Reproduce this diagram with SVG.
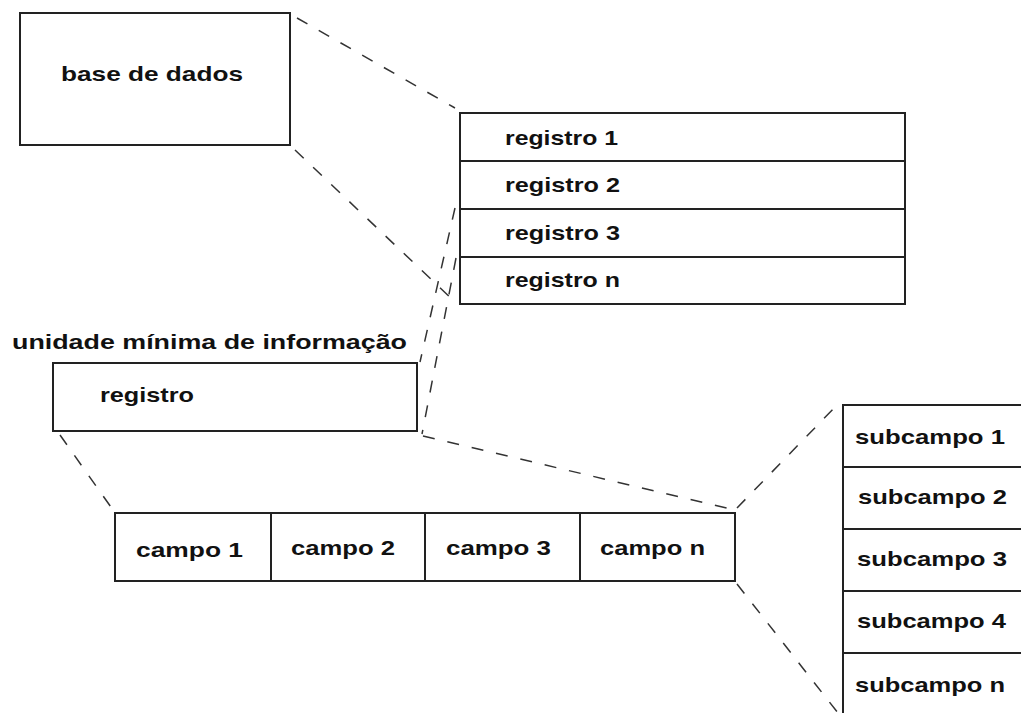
<svg xmlns="http://www.w3.org/2000/svg" width="1021" height="713" viewBox="0 0 1021 713">
<style>
.box{fill:#fff;stroke:#222;stroke-width:2}
.ln{stroke:#222;stroke-width:2}
.dash{stroke:#333;stroke-width:1.5;stroke-dasharray:12 13;fill:none}
text{font-family:"Liberation Sans",Arial,sans-serif;font-weight:bold;font-size:21px;fill:#111}
</style>
<rect width="1021" height="713" fill="#fff"/>
<g id="connectors">
<line class="dash" x1="297" y1="18" x2="455" y2="108"/>
<line class="dash" x1="295" y1="150" x2="455" y2="302"/>
<line class="dash" x1="455" y1="208" x2="420" y2="362"/>
<line class="dash" x1="456" y1="258" x2="422" y2="434"/>
<line class="dash" x1="60" y1="435" x2="113" y2="510"/>
<line class="dash" x1="423" y1="436" x2="735" y2="510"/>
<line class="dash" x1="737" y1="508" x2="838" y2="404"/>
<line class="dash" x1="737" y1="584" x2="838" y2="713"/>
</g>
<g id="base-de-dados">
<rect class="box" x="20" y="13" width="270" height="132"/>
<text x="61" y="81" textLength="182" lengthAdjust="spacingAndGlyphs">base de dados</text>
</g>
<g id="registros">
<rect class="box" x="460" y="113" width="445" height="191"/>
<line class="ln" x1="460" y1="161" x2="905" y2="161"/>
<line class="ln" x1="460" y1="209" x2="905" y2="209"/>
<line class="ln" x1="460" y1="257" x2="905" y2="257"/>
<text x="505" y="145" textLength="113" lengthAdjust="spacingAndGlyphs">registro 1</text>
<text x="505" y="192" textLength="115" lengthAdjust="spacingAndGlyphs">registro 2</text>
<text x="505" y="240" textLength="115" lengthAdjust="spacingAndGlyphs">registro 3</text>
<text x="505" y="287" textLength="115" lengthAdjust="spacingAndGlyphs">registro n</text>
</g>
<g id="registro">
<text x="12" y="349" textLength="395" lengthAdjust="spacingAndGlyphs">unidade mínima de informação</text>
<rect class="box" x="53" y="363" width="364" height="68"/>
<text x="100" y="402" textLength="94" lengthAdjust="spacingAndGlyphs">registro</text>
</g>
<g id="campos">
<rect class="box" x="115" y="513" width="620" height="68"/>
<line class="ln" x1="271" y1="513" x2="271" y2="581"/>
<line class="ln" x1="425" y1="513" x2="425" y2="581"/>
<line class="ln" x1="580" y1="513" x2="580" y2="581"/>
<text x="136" y="557" textLength="107" lengthAdjust="spacingAndGlyphs">campo 1</text>
<text x="291" y="555" textLength="104" lengthAdjust="spacingAndGlyphs">campo 2</text>
<text x="446" y="555" textLength="105" lengthAdjust="spacingAndGlyphs">campo 3</text>
<text x="600" y="555" textLength="105" lengthAdjust="spacingAndGlyphs">campo n</text>
</g>
<g id="subcampos">
<line class="ln" x1="843" y1="405" x2="1021" y2="405"/>
<line class="ln" x1="843" y1="467" x2="1021" y2="467"/>
<line class="ln" x1="843" y1="529" x2="1021" y2="529"/>
<line class="ln" x1="843" y1="591" x2="1021" y2="591"/>
<line class="ln" x1="843" y1="653" x2="1021" y2="653"/>
<line class="ln" x1="843" y1="404" x2="843" y2="713"/>
<text x="855" y="444" textLength="150" lengthAdjust="spacingAndGlyphs">subcampo 1</text>
<text x="858" y="504" textLength="149" lengthAdjust="spacingAndGlyphs">subcampo 2</text>
<text x="857" y="566" textLength="150" lengthAdjust="spacingAndGlyphs">subcampo 3</text>
<text x="857" y="628" textLength="149" lengthAdjust="spacingAndGlyphs">subcampo 4</text>
<text x="855" y="692" textLength="150" lengthAdjust="spacingAndGlyphs">subcampo n</text>
</g>
</svg>
